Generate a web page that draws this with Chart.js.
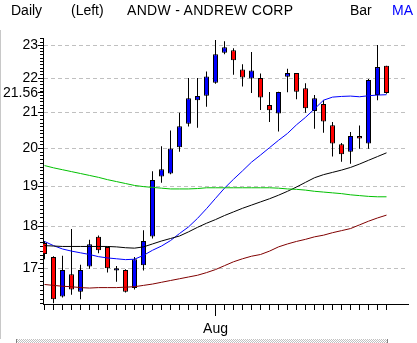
<!DOCTYPE html>
<html>
<head>
<meta charset="utf-8">
<script src="https://cdn.jsdelivr.net/npm/chart.js@4"></script>
<style>
html,body{margin:0;padding:0;background:#fff;}
#wrap{position:relative;width:417px;height:343px;overflow:hidden;background:#fff;font-family:"Liberation Sans",Arial,sans-serif;}
#c{position:absolute;left:0;top:0;}
.h{position:absolute;top:2px;font-size:14px;line-height:16px;color:#000;white-space:pre;}
#lb{position:absolute;left:0;top:30px;width:1px;height:313px;background:#c8c8c8;}
#sb{position:absolute;left:0;top:339px;width:417px;height:4px;background:repeating-conic-gradient(#c0c0c0 0 25%,#fff 0 50%) 0 0/2px 2px;}
#sb1{position:absolute;left:0;top:339px;width:16px;height:4px;background:#fff;border-right:1px solid #808080;}
#sb2{position:absolute;left:387px;top:339px;width:30px;height:4px;background:#fff;border-left:1px solid #808080;}
</style>
</head>
<body>
<div id="wrap">
<canvas id="c" width="417" height="343"></canvas>
<div class="h" style="left:11px">Daily</div>
<div class="h" style="left:71px">(Left)</div>
<div class="h" style="left:127px;letter-spacing:0.3px">ANDW - ANDREW CORP</div>
<div class="h" style="left:350px">Bar</div>
<div class="h" style="left:392px;color:#0000ff">MA</div>
<div id="lb"></div>
<div id="sb"></div><div id="sb1"></div><div id="sb2"></div>
</div>
<script>
// Trading-day index (0 = first day shown); index 19 is the first day of August
const days = [0,1,2,3,4,5,6,7,8,9,10,11,12,13,14,15,16,17,18,19,20,21,22,23,24,25,26,27,28,29,30,31,32,33,34,35,36,37,38];
const monthLabels = {19: 'Aug'};

const openP  = [17.59,17.26,16.36,16.86,16.47,17.04,17.74,17.50,16.95,16.96,16.55,17.07,17.75,19.25,19.33,20.03,20.68,21.35,21.48,21.86,22.77,22.85,22.26,21.99,22.00,21.21,20.97,22.04,22.15,21.70,21.04,21.24,20.64,20.11,19.91,20.34,20.13,21.50,22.37];
const highP  = [17.64,17.28,17.29,17.93,17.08,17.67,17.77,17.51,17.05,16.98,17.26,17.90,19.39,20.06,20.49,20.99,22.00,22.00,22.20,23.17,23.13,22.91,22.42,22.79,22.14,21.59,21.60,22.28,22.15,21.85,21.50,21.35,20.73,20.15,20.45,20.63,21.97,23.01,22.37];
const lowP   = [17.21,16.21,16.34,16.40,16.30,16.99,17.35,16.90,16.69,16.45,16.52,16.95,17.70,19.09,19.31,19.91,20.60,20.57,21.16,21.83,22.72,22.10,21.75,21.56,21.07,20.73,20.46,21.58,21.38,20.99,20.54,20.43,19.78,19.64,19.59,19.99,19.99,21.35,21.54];
const closeP = [17.33,16.30,16.96,16.52,16.96,17.56,17.42,17.00,17.00,16.47,17.21,17.64,19.16,19.44,20.00,20.61,21.41,21.47,22.05,22.72,22.94,22.54,22.02,22.23,21.43,21.06,21.59,22.15,21.60,21.12,21.41,20.74,20.13,19.84,20.34,20.27,21.94,22.33,21.56];

const maBlue  = [17.63,17.53,17.45,17.40,17.36,17.32,17.27,17.24,17.22,17.20,17.21,17.30,17.42,17.52,17.65,17.82,17.98,18.19,18.43,18.69,18.95,19.18,19.40,19.63,19.82,20.02,20.22,20.41,20.65,20.86,21.10,21.35,21.44,21.46,21.47,21.45,21.48,21.50,21.51];
const maBlack = [17.53,17.52,17.51,17.51,17.51,17.51,17.51,17.51,17.50,17.48,17.47,17.50,17.57,17.64,17.70,17.76,17.86,17.97,18.07,18.16,18.26,18.35,18.44,18.52,18.60,18.68,18.77,18.87,18.98,19.10,19.22,19.30,19.36,19.42,19.49,19.58,19.68,19.78,19.88];
const maGreen = [19.54,19.48,19.43,19.38,19.33,19.28,19.23,19.17,19.12,19.07,19.02,18.99,18.97,18.95,18.93,18.93,18.93,18.94,18.96,18.96,18.96,18.96,18.96,18.96,18.96,18.96,18.95,18.93,18.92,18.90,18.87,18.85,18.83,18.81,18.78,18.76,18.74,18.73,18.73];
const maRed   = [16.63,16.61,16.59,16.58,16.56,16.55,16.56,16.56,16.56,16.57,16.58,16.61,16.64,16.68,16.72,16.76,16.80,16.84,16.90,16.97,17.06,17.15,17.22,17.28,17.32,17.40,17.50,17.57,17.63,17.68,17.74,17.78,17.84,17.89,17.94,18.03,18.12,18.20,18.27];

const yTickLabels = [17, 18, 19, 20, 21, 22, 23];
const lastPrice = 21.56;
const yMin = 16.196, yMax = 23.229;
const minorStep = 0.1;

const isMajorY = v => yTickLabels.some(t => Math.abs(t - v) < 1e-6);
const isLabelY = v => isMajorY(v) || Math.abs(v - lastPrice) < 1e-6;

const longTicks = {
  id: 'longTicks',
  afterDraw(chart) {
    const {ctx, chartArea, scales} = chart;
    const al = p => Math.round(p - 0.5) + 0.5;
    ctx.save();
    ctx.strokeStyle = '#000';
    ctx.lineWidth = 1;
    ctx.beginPath();
    [...yTickLabels, lastPrice].forEach(v => {
      const py = al(scales.y.getPixelForValue(v));
      ctx.moveTo(chartArea.left - 5, py);
      ctx.lineTo(chartArea.left, py);
    });
    Object.keys(monthLabels).forEach(k => {
      const px = al(scales.x.getPixelForValue(Number(k)));
      ctx.moveTo(px, chartArea.bottom);
      ctx.lineTo(px, chartArea.bottom + 12);
    });
    ctx.stroke();
    ctx.restore();
  }
};

const lineDs = (data, color) => ({
  type: 'line',
  data: days.map(i => ({x: i, y: data[i]})),
  borderColor: color,
  borderWidth: 1,
  pointRadius: 0,
  fill: false,
  tension: 0,
  clip: 0,
  order: 0
});

new Chart(document.getElementById('c'), {
  type: 'bar',
  data: {
    datasets: [
      lineDs(maRed, '#800000'),
      lineDs(maGreen, '#00c000'),
      lineDs(maBlack, '#000000'),
      lineDs(maBlue, '#0000ff'),
      {
        type: 'bar',
        data: days.map(i => ({x: i, y: [openP[i], closeP[i]]})),
        backgroundColor: days.map(i => closeP[i] >= openP[i] ? '#0000ff' : '#ff0000'),
        borderColor: '#000',
        borderWidth: 1,
        borderSkipped: false,
        barThickness: 5,
        maxBarThickness: 5,
        inflateAmount: 0,
        grouped: false,
        clip: 0,
        order: 1
      },
      {
        type: 'bar',
        data: days.map(i => ({x: i, y: [lowP[i], highP[i]]})),
        backgroundColor: '#000',
        borderWidth: 0,
        barThickness: 1,
        maxBarThickness: 1,
        inflateAmount: 0,
        grouped: false,
        clip: 0,
        order: 2
      }
    ]
  },
  options: {
    responsive: false,
    animation: false,
    devicePixelRatio: 1,
    layout: {padding: {top: 38, right: 9, bottom: 0, left: 0}},
    plugins: {legend: {display: false}, tooltip: {enabled: false}},
    scales: {
      x: {
        type: 'linear',
        bounds: 'data',
        offset: false,
        min: -1.5 / 9,
        max: -1.5 / 9 + 365 / 9,
        afterBuildTicks: s => { s.ticks = days.map(v => ({value: v})); },
        afterFit: s => { s.height = 39; },
        ticks: {
          autoSkip: false,
          maxRotation: 0,
          padding: 11,
          color: '#000',
          font: {family: 'Liberation Sans', size: 14},
          callback: v => monthLabels[v] || ''
        },
        grid: {offset: false, drawOnChartArea: false, drawTicks: true, tickLength: 6, tickColor: '#000', tickWidth: 1},
        border: {display: true, color: '#000', width: 1}
      },
      y: {
        type: 'logarithmic',
        bounds: 'data',
        min: yMin,
        max: yMax,
        afterBuildTicks: s => {
          const t = [];
          for (let k = Math.ceil(yMin / minorStep); k * minorStep <= yMax; k++) {
            t.push({value: Math.round(k * minorStep * 10) / 10});
          }
          t.push({value: lastPrice});
          t.sort((a, b) => a.value - b.value);
          s.ticks = t;
        },
        afterFit: s => { s.width = 43; },
        ticks: {
          autoSkip: false,
          padding: 2,
          color: '#000',
          font: {family: 'Liberation Sans', size: 14},
          callback: v => isLabelY(v) ? (Math.abs(v - lastPrice) < 1e-6 ? lastPrice.toFixed(2) : String(Math.round(v))) : ''
        },
        grid: {
          drawOnChartArea: true,
          drawTicks: true,
          tickLength: 3,
          tickColor: '#000',
          tickWidth: 1,
          lineWidth: 1,
          color: c => (c.tick && isMajorY(c.tick.value)) ? '#c0c0c0' : 'rgba(0,0,0,0)'
        },
        border: {display: true, color: '#000', width: 1, dash: [4, 3]}
      }
    }
  },
  plugins: [longTicks]
});
</script>
</body>
</html>
